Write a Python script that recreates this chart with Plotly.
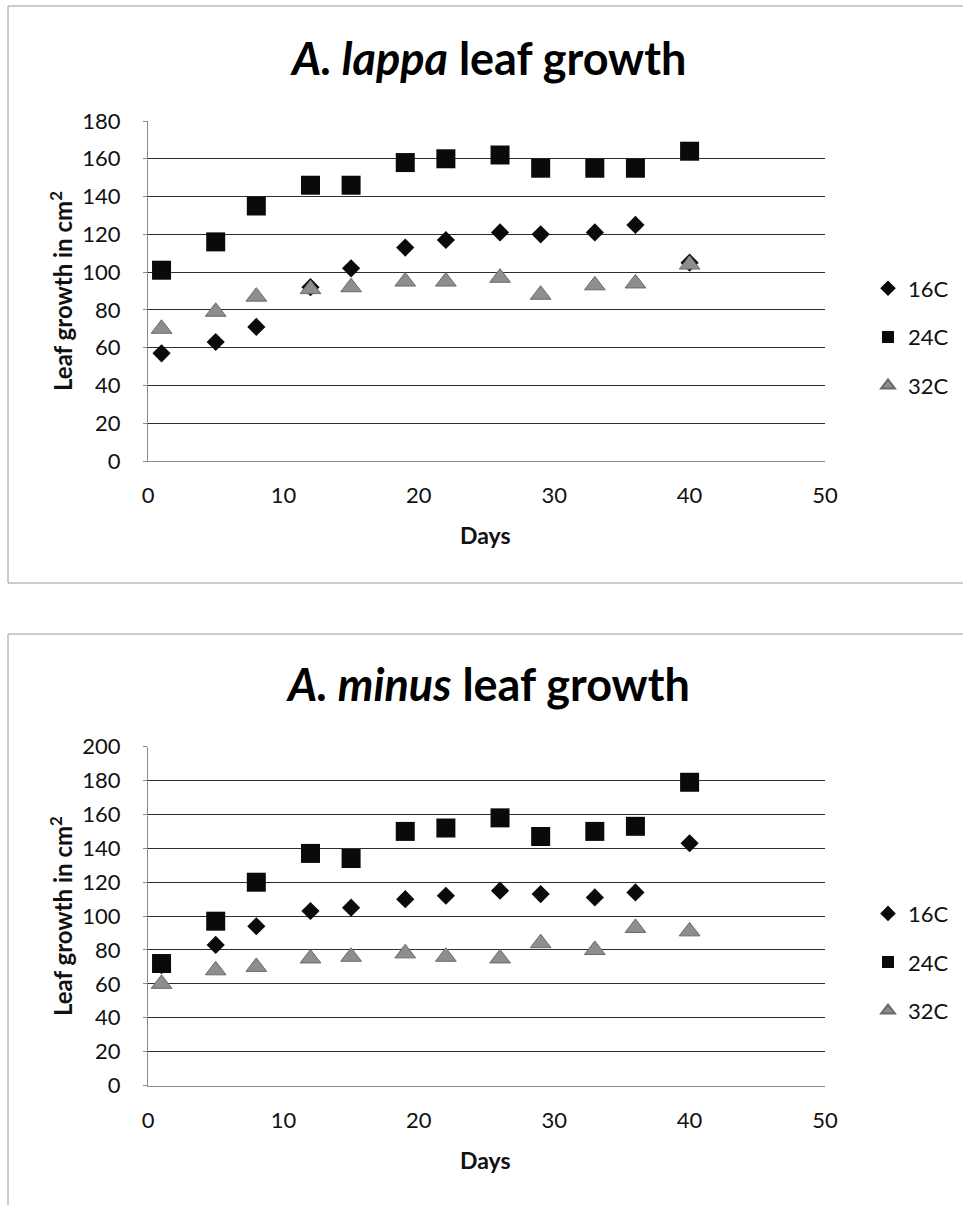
import plotly.graph_objects as go

# ---- data ----
days = [1, 5, 8, 12, 15, 19, 22, 26, 29, 33, 36, 40]
series_names = ["16C", "24C", "32C"]

lappa_16 = [57, 63, 71, 92, 102, 113, 117, 121, 120, 121, 125, 105]
lappa_24 = [101, 116, 135, 146, 146, 158, 160, 162, 155, 155, 155, 164]
lappa_32 = [70, 79, 87, 91, 92, 95, 95, 97, 88, 93, 94, 104]

minus_16 = [71, 83, 94, 103, 105, 110, 112, 115, 113, 111, 114, 143]
minus_24 = [72, 97, 120, 137, 134, 150, 152, 158, 147, 150, 153, 179]
minus_32 = [60, 68, 70, 75, 76, 78, 76, 75, 84, 80, 93, 91]

x_ticks = [0, 10, 20, 30, 40, 50]
top_y_max = 180
bottom_y_max = 200

titles = ["<b><i>A. lappa</i> leaf growth</b>", "<b><i>A. minus</i> leaf growth</b>"]
x_title = "<b>Days</b>"
y_title = "<b>Leaf growth in cm<sup>2</sup></b>"

# ---- styling ----
W, H = 963, 1205
FONT = "Lato"
styles = [
    dict(symbol="diamond", size=14, color="#0a0a0a", line=dict(width=0)),
    dict(symbol="square", size=19, color="#0a0a0a", line=dict(width=0)),
    dict(symbol="triangle-up", size=18, color="#8e8e8e", line=dict(width=1, color="#6a6a6a")),
]


def px_x(p):
    return p / W


def px_y(p):
    return 1 - p / H


fig = go.Figure()

panels = [
    dict(data=[lappa_16, lappa_24, lappa_32], xa="x", ya="y", legend="legend",
         top=121, bottom=461, ymax=top_y_max, offset=0),
    dict(data=[minus_16, minus_24, minus_32], xa="x2", ya="y2", legend="legend2",
         top=746.7, bottom=1085.5, ymax=bottom_y_max, offset=625.7),
]

for p in panels:
    for name, vals, st in zip(series_names, p["data"], styles):
        fig.add_trace(go.Scatter(
            x=days, y=vals, mode="markers", name=name,
            xaxis=p["xa"], yaxis=p["ya"], legend=p["legend"],
            legendgroup=p["legend"] + name,
            marker=st, hoverinfo="skip",
        ))

axis_common = dict(
    tickfont=dict(family=FONT, size=22, color="#111"),
)

layout = dict(
    width=W, height=H,
    margin=dict(l=0, r=0, t=0, b=0),
    paper_bgcolor="white", plot_bgcolor="white",
    font=dict(family=FONT, color="#111"),
    showlegend=True,
)

for i, p in enumerate(panels):
    sfx = "" if i == 0 else str(i + 1)
    layout["xaxis" + sfx] = dict(
        domain=[px_x(148), px_x(825)], range=[0, 50], tickvals=x_ticks,
        showgrid=False, zeroline=False, showline=True, linecolor="#8a8a8a",
        linewidth=1, ticks="", ticklabelstandoff=15, automargin=False,
        anchor="y" + sfx, fixedrange=True, **axis_common,
    )
    layout["yaxis" + sfx] = dict(
        domain=[px_y(p["bottom"]), px_y(p["top"])], range=[0, p["ymax"]], dtick=20,
        showgrid=True, gridcolor="#2e2e2e", gridwidth=1.2, zeroline=False,
        showline=True, linecolor="#8a8a8a", linewidth=1, automargin=False,
        ticks="outside", ticklen=4, tickcolor="#8a8a8a", ticklabelstandoff=18,
        anchor="x" + sfx, fixedrange=True, **axis_common,
    )
    layout["legend" + sfx] = dict(
        x=px_x(868), y=px_y((p["top"] + p["bottom"]) / 2 + 46),
        xanchor="left", yanchor="middle",
        font=dict(family=FONT, size=22, color="#111"),
        itemsizing="constant", tracegroupgap=17, bgcolor="rgba(0,0,0,0)",
    )

fig.update_layout(**layout)

annotations = []
shapes = []
for i, p in enumerate(panels):
    off = p["offset"]
    annotations.append(dict(
        text=titles[i], x=px_x(488), y=px_y(58 + off), xref="paper", yref="paper",
        xanchor="center", yanchor="middle", showarrow=False,
        font=dict(family=FONT, size=45, color="#000"),
    ))
    annotations.append(dict(
        text=x_title, x=px_x(486), y=px_y(p["bottom"] + 74), xref="paper", yref="paper",
        xanchor="center", yanchor="middle", showarrow=False,
        font=dict(family=FONT, size=23, color="#111"),
    ))
    annotations.append(dict(
        text=y_title, x=px_x(61), y=px_y((p["top"] + p["bottom"]) / 2), xref="paper", yref="paper",
        xanchor="center", yanchor="middle", showarrow=False, textangle=-90,
        font=dict(family=FONT, size=24, color="#111"),
    ))

shapes.append(dict(type="rect", xref="paper", yref="paper",
                   x0=px_x(8), x1=px_x(975), y0=px_y(583), y1=px_y(6),
                   line=dict(color="#9a9a9a", width=1), fillcolor="rgba(0,0,0,0)", layer="below"))
shapes.append(dict(type="rect", xref="paper", yref="paper",
                   x0=px_x(8), x1=px_x(975), y0=px_y(1215), y1=px_y(634),
                   line=dict(color="#9a9a9a", width=1), fillcolor="rgba(0,0,0,0)", layer="below"))

fig.update_layout(annotations=annotations, shapes=shapes)

fig.write_html("out.html", post_script="document.body.style.margin='0';")
